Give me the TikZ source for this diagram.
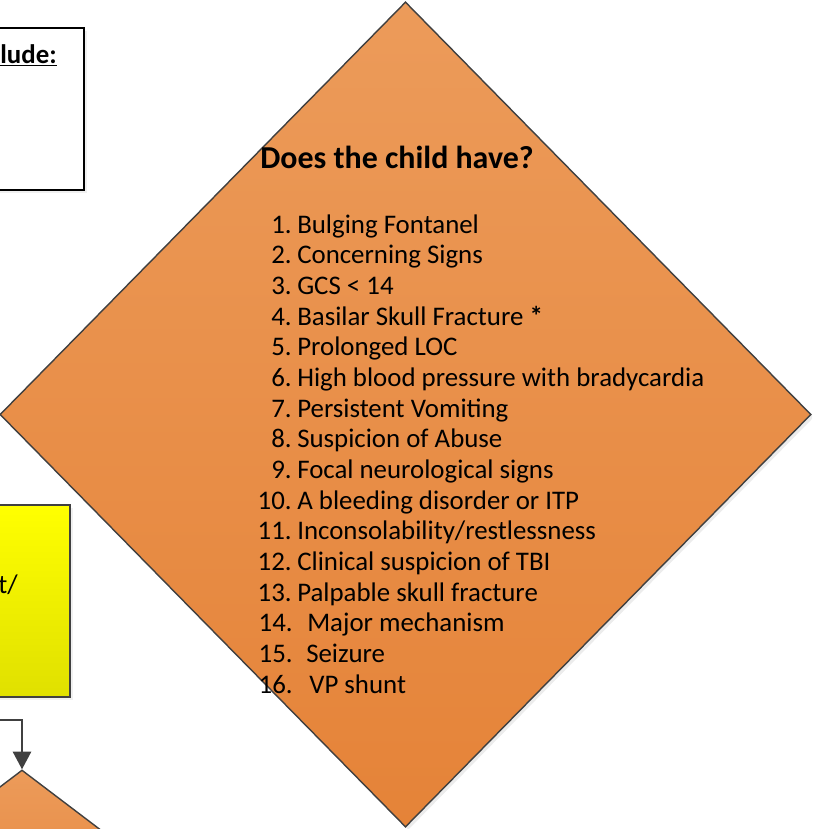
\documentclass[tikz,border=0pt]{standalone}
\usepackage{fontspec}
\setmainfont{Carlito}
\usetikzlibrary{shapes.geometric,arrows.meta,shadows}
\definecolor{orgtop}{RGB}{236,155,90}
\definecolor{orgbot}{RGB}{229,131,56}
\definecolor{ylwtop}{RGB}{255,255,0}
\definecolor{ylwbot}{RGB}{224,224,0}
\definecolor{edgegry}{RGB}{64,64,64}

\begin{document}
\begin{tikzpicture}[x=0.025cm,y=-0.025cm,
    dmd/.style={diamond,draw=edgegry,line width=1pt,inner sep=0pt,
                top color=orgtop,bottom color=orgbot,
                drop shadow={opacity=0.15,shadow xshift=2pt,shadow yshift=-2pt}},
    box/.style={rectangle,draw=edgegry,line width=1pt,inner sep=0pt,
                drop shadow={opacity=0.12,shadow xshift=2pt,shadow yshift=-2pt}},
    item/.style={inner sep=0pt,font=\fontsize{19.1}{23}\selectfont},
    arr/.style={-{Triangle[length=12.5pt,width=13pt]},line width=1.1pt,draw=edgegry}
  ]
  \useasboundingbox (0,0) rectangle (812,829);
  \clip (0,0) rectangle (812,829);

  %% -- left column (cut off) ------------------------------------------------
  \node[box,fill=white,draw=black,minimum width=9.6cm,minimum height=4.05cm]
      (excl) at (-108,109) {};
  \node[item,anchor=base east] (exclhd) at (57,63)
      {\underline{\textbf{lude:}}};

  \node[box,top color=ylwtop,bottom color=ylwbot,
        minimum width=9.25cm,minimum height=4.8cm] (ybox) at (-115,601) {};
  \node[item,anchor=west] (ytxt) at (-2,585) {t/};

  \node[dmd,minimum width=5.925cm,minimum height=4.5cm] (small) at (22,860) {};
  \coordinate (inA) at (-5,720);
  \draw[arr] (inA) -| (small.north);

  %% -- main decision --------------------------------------------------------
  \node[dmd,minimum width=20.275cm,minimum height=20.625cm] (ask)
      at (405.5,414.5) {};
  \node[inner sep=0pt,anchor=base west,font=\fontsize{22.7}{27}\selectfont\bfseries]
      (askhd) at (260,168) {Does the child have?};

  \foreach \txt [count=\i] in {Bulging Fontanel, Concerning Signs, GCS < 14,
      {Basilar Skull Fracture \textbf{*}}, Prolonged LOC,
      High blood pressure with bradycardia, Persistent Vomiting,
      Suspicion of Abuse, Focal neurological signs,
      A bleeding disorder or ITP, Inconsolability/restlessness,
      Clinical suspicion of TBI, Palpable skull fracture}
  {
    \node[item,anchor=base east] (num\i) at (292,{233+(\i-1)*30.67}) {\i.};
    \node[item,anchor=base west] (itm\i) at (297,{233+(\i-1)*30.67}) {\txt};
  }
  \foreach \txt/\tx [count=\i from 14] in {Major mechanism/307, Seizure/306, VP shunt/309}
  {
    \node[item,anchor=base east] (num\i) at (293,{233+(\i-1)*30.67}) {\i.};
    \node[item,anchor=base west] (itm\i) at (\tx,{233+(\i-1)*30.67}) {\txt};
  }

\end{tikzpicture}
\end{document}
